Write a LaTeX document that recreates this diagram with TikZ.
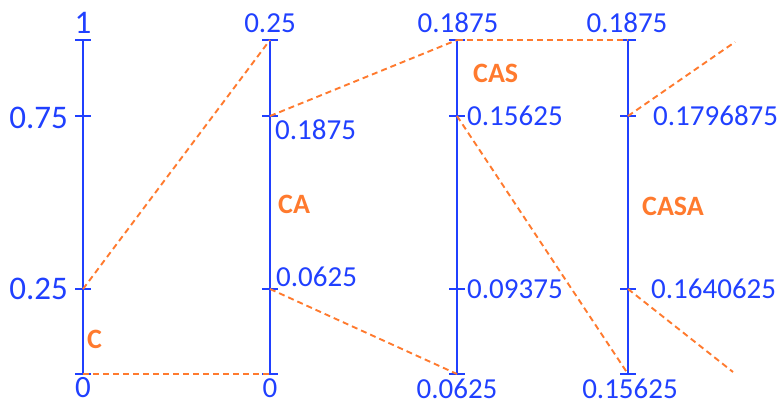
\documentclass[tikz,border=0pt]{standalone}
\usepackage{fontspec}
\setmainfont{Carlito}
\usetikzlibrary{positioning}
\definecolor{CBlue}{HTML}{2040FF}
\definecolor{COrange}{HTML}{FF7A2E}
\tikzset{
  axisLine/.style={draw=CBlue, line width=2.4pt},
  tickMark/.style={draw=CBlue, line width=2pt},
  dashLink/.style={draw=COrange, line width=1.9pt, dash pattern=on 6pt off 4pt},
  bigVal/.style={text=CBlue, font=\fontsize{33}{36}\selectfont, inner sep=0pt, text depth=0pt},
  smallVal/.style={text=CBlue, font=\fontsize{29}{32}\selectfont, inner sep=0pt, text depth=0pt},
  stageName/.style={text=COrange, font=\bfseries\fontsize{28}{32}\selectfont, inner sep=0pt}
}

\begin{document}
\begin{tikzpicture}[x=1pt, y=-1pt]
\useasboundingbox (0,0) rectangle (781,404);
% the four intervals
\foreach \n/\x in {c/83, ca/270, cas/457, casa/628} {
  \coordinate (\n-top) at (\x,40);
  \coordinate (\n-hi) at (\x,116);
  \coordinate (\n-lo) at (\x,289);
  \coordinate (\n-bot) at (\x,374);
  \draw[axisLine] (\n-top) -- (\n-bot);
  \foreach \p in {top,hi,lo,bot}
    \draw[tickMark] ([xshift=-8pt]\n-\p) -- ([xshift=8pt]\n-\p);
}
\coordinate (out-hi) at (735,42);
\coordinate (out-lo) at (733,372);

% zoom links
\draw[dashLink] (c-lo) -- (ca-top);
\draw[dashLink] (c-bot) -- (ca-bot);
\draw[dashLink] (ca-hi) -- (cas-top);
\draw[dashLink] (ca-lo) -- (cas-bot);
\draw[dashLink] (cas-top) -- (casa-top);
\draw[dashLink] (cas-hi) -- (casa-bot);
\draw[dashLink] (casa-hi) -- (out-hi);
\draw[dashLink] (casa-lo) -- (out-lo);

% values
\node[bigVal, anchor=base] (v-c-top) at (83,34) {1};
\node[bigVal, anchor=base east] (v-c-hi) at (68,128) {0.75};
\node[bigVal, anchor=base east] (v-c-lo) at (68,299) {0.25};
\node[bigVal, font=\fontsize{31}{34}\selectfont, anchor=base] (v-c-bot) at (83,397) {0};

\node[smallVal, anchor=base] (v-ca-top) at (270,33) {0.25};
\node[smallVal, anchor=base west] (v-ca-hi) at (275,139) {0.1875};
\node[smallVal, anchor=base west] (v-ca-lo) at (276,286) {0.0625};
\node[smallVal, anchor=base] (v-ca-bot) at (270,397) {0};

\node[smallVal, anchor=base] (v-cas-top) at (458,33) {0.1875};
\node[smallVal, anchor=base west] (v-cas-hi) at (467,125) {0.15625};
\node[smallVal, anchor=base west] (v-cas-lo) at (467,298) {0.09375};
\node[smallVal, anchor=base] (v-cas-bot) at (457,398) {0.0625};

\node[smallVal, anchor=base] (v-casa-top) at (627,33) {0.1875};
\node[smallVal, anchor=base west] (v-casa-hi) at (653,125) {0.1796875};
\node[smallVal, anchor=base west] (v-casa-lo) at (651,298) {0.1640625};
\node[smallVal, anchor=base] (v-casa-bot) at (630,398) {0.15625};

% stage names
\node[stageName, anchor=base west] (n-c) at (87,348) {C};
\node[stageName, anchor=base west] (n-ca) at (278,213) {CA};
\node[stageName, anchor=base west] (n-cas) at (473,82) {CAS};
\node[stageName, anchor=base west] (n-casa) at (642,215) {CASA};
\end{tikzpicture}
\end{document}
